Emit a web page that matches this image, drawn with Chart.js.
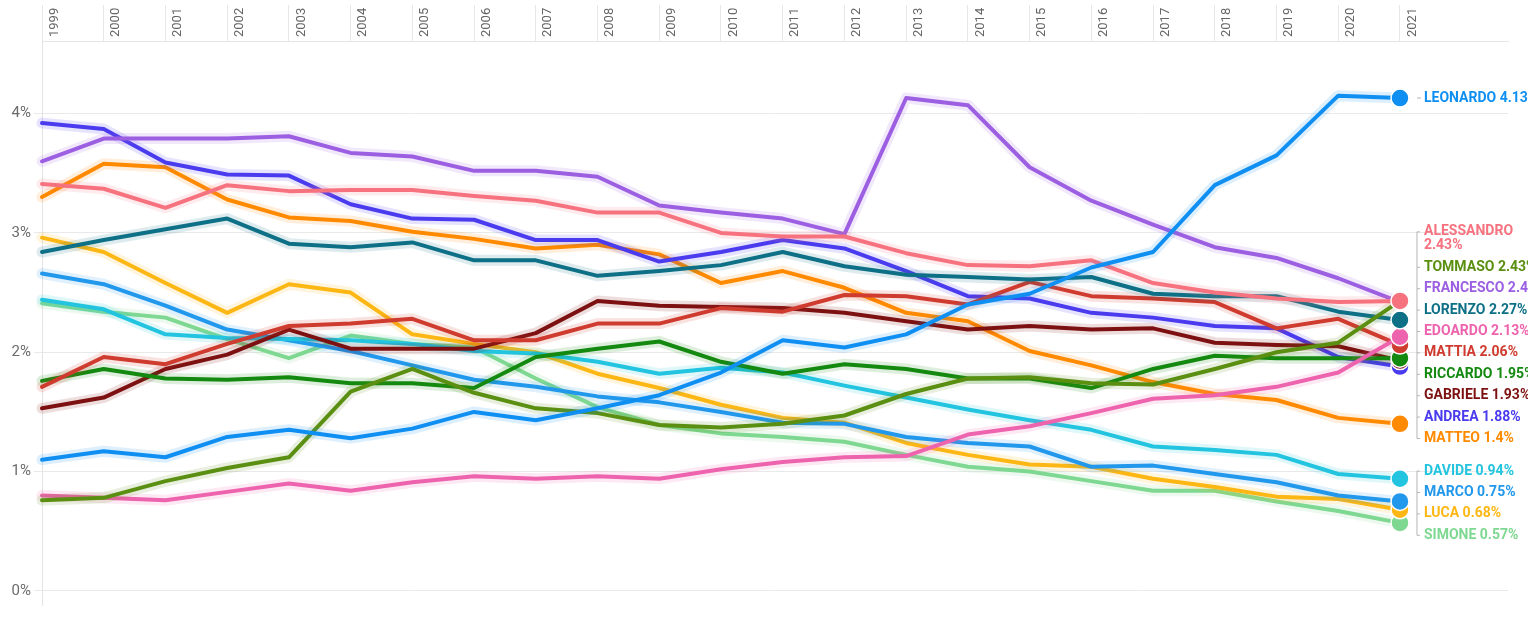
<!DOCTYPE html>
<html>
<head>
<meta charset="utf-8">
<script src="https://cdn.jsdelivr.net/npm/chart.js@4/dist/chart.umd.min.js"></script>
<style>
  html, body { margin: 0; padding: 0; background: #fff; }
  #wrap { width: 1528px; height: 617px; overflow: hidden; }
</style>
</head>
<body>
<div id="wrap"><canvas id="chart" width="1528" height="617"></canvas></div>
<script>
// anni
const years = [1999, 2000, 2001, 2002, 2003, 2004, 2005, 2006, 2007, 2008, 2009, 2010,
               2011, 2012, 2013, 2014, 2015, 2016, 2017, 2018, 2019, 2020, 2021];
const yTicks = [0, 1, 2, 3, 4];

// quota dei nati (%) per nome
const leonardo   = [1.10, 1.17, 1.12, 1.29, 1.35, 1.28, 1.36, 1.50, 1.43, 1.53, 1.64, 1.83, 2.10, 2.04, 2.15, 2.40, 2.49, 2.71, 2.84, 3.40, 3.65, 4.15, 4.13];
const alessandro = [3.41, 3.37, 3.21, 3.40, 3.35, 3.36, 3.36, 3.31, 3.27, 3.17, 3.17, 3.00, 2.97, 2.97, 2.83, 2.73, 2.72, 2.77, 2.58, 2.50, 2.45, 2.42, 2.43];
const tommaso    = [0.76, 0.78, 0.92, 1.03, 1.12, 1.67, 1.86, 1.66, 1.53, 1.49, 1.39, 1.37, 1.40, 1.47, 1.65, 1.78, 1.79, 1.74, 1.73, 1.86, 2.00, 2.08, 2.43];
const francesco  = [3.60, 3.79, 3.79, 3.79, 3.81, 3.67, 3.64, 3.52, 3.52, 3.47, 3.23, 3.17, 3.12, 2.99, 4.13, 4.07, 3.55, 3.27, 3.07, 2.88, 2.79, 2.62, 2.42];
const lorenzo    = [2.84, 2.94, 3.03, 3.12, 2.91, 2.88, 2.92, 2.77, 2.77, 2.64, 2.68, 2.73, 2.84, 2.72, 2.65, 2.63, 2.61, 2.63, 2.49, 2.47, 2.47, 2.34, 2.27];
const edoardo    = [0.80, 0.78, 0.76, 0.83, 0.90, 0.84, 0.91, 0.96, 0.94, 0.96, 0.94, 1.02, 1.08, 1.12, 1.13, 1.31, 1.38, 1.49, 1.61, 1.64, 1.71, 1.83, 2.13];
const mattia     = [1.71, 1.96, 1.90, 2.07, 2.22, 2.24, 2.28, 2.10, 2.10, 2.24, 2.24, 2.37, 2.34, 2.48, 2.47, 2.40, 2.59, 2.47, 2.45, 2.42, 2.20, 2.28, 2.06];
const riccardo   = [1.76, 1.86, 1.78, 1.77, 1.79, 1.74, 1.74, 1.70, 1.96, 2.03, 2.09, 1.92, 1.82, 1.90, 1.86, 1.78, 1.78, 1.70, 1.86, 1.97, 1.95, 1.95, 1.95];
const gabriele   = [1.53, 1.62, 1.86, 1.98, 2.19, 2.03, 2.03, 2.03, 2.16, 2.43, 2.39, 2.38, 2.37, 2.33, 2.26, 2.19, 2.22, 2.19, 2.20, 2.08, 2.06, 2.05, 1.93];
const andrea     = [3.92, 3.87, 3.59, 3.49, 3.48, 3.24, 3.12, 3.11, 2.94, 2.94, 2.76, 2.84, 2.94, 2.87, 2.68, 2.47, 2.45, 2.33, 2.29, 2.22, 2.20, 1.96, 1.88];
const matteo     = [3.30, 3.58, 3.55, 3.28, 3.13, 3.10, 3.01, 2.95, 2.87, 2.90, 2.82, 2.58, 2.68, 2.54, 2.33, 2.26, 2.01, 1.89, 1.75, 1.65, 1.60, 1.45, 1.40];
const davide     = [2.44, 2.36, 2.15, 2.12, 2.11, 2.10, 2.07, 2.01, 1.99, 1.92, 1.82, 1.87, 1.83, 1.72, 1.62, 1.52, 1.43, 1.35, 1.21, 1.18, 1.14, 0.98, 0.94];
const marco      = [2.66, 2.57, 2.39, 2.19, 2.10, 2.01, 1.89, 1.77, 1.71, 1.63, 1.58, 1.50, 1.41, 1.40, 1.29, 1.24, 1.21, 1.04, 1.05, 0.98, 0.91, 0.80, 0.75];
const luca       = [2.96, 2.84, 2.58, 2.33, 2.57, 2.50, 2.15, 2.07, 2.00, 1.82, 1.70, 1.56, 1.45, 1.41, 1.24, 1.14, 1.06, 1.04, 0.94, 0.87, 0.79, 0.77, 0.68];
const simone     = [2.41, 2.34, 2.29, 2.11, 1.95, 2.14, 2.07, 2.04, 1.78, 1.54, 1.39, 1.32, 1.29, 1.25, 1.14, 1.04, 1.00, 0.92, 0.84, 0.84, 0.75, 0.67, 0.57];

const names  = ['LEONARDO', 'ALESSANDRO', 'TOMMASO', 'FRANCESCO', 'LORENZO', 'EDOARDO', 'MATTIA',
                'RICCARDO', 'GABRIELE', 'ANDREA', 'MATTEO', 'DAVIDE', 'MARCO', 'LUCA', 'SIMONE'];
const series = [leonardo, alessandro, tommaso, francesco, lorenzo, edoardo, mattia,
                riccardo, gabriele, andrea, matteo, davide, marco, luca, simone];
const colors = ['#0f8ff2', '#f7727f', '#5b8f12', '#9c5fe2', '#0e7086', '#ee63ad', '#cf3b2e',
                '#13890f', '#7d1111', '#4a3cee', '#ff8a00', '#22c4df', '#2198ec', '#fdb714', '#7fd891'];

function rgba(hex, a) {
    const n = parseInt(hex.slice(1), 16);
    return 'rgba(' + (n >> 16) + ',' + ((n >> 8) & 255) + ',' + (n & 255) + ',' + a + ')';
}

// alone chiaro attorno alle linee (stesso tracciato della serie, più largo e trasparente)
const haloPlugin = {
    id: 'halo',
    beforeDatasetDraw(chart, args) {
        const ds = chart.data.datasets[args.index];
        const pts = args.meta.data;
        const ctx = chart.ctx;
        ctx.save();
        ctx.strokeStyle = rgba(ds.borderColor, 0.14);
        ctx.lineWidth = 11;
        ctx.lineJoin = 'round';
        ctx.lineCap = 'round';
        ctx.beginPath();
        pts.forEach((p, i) => (i ? ctx.lineTo(p.x, p.y) : ctx.moveTo(p.x, p.y)));
        ctx.stroke();
        ctx.restore();
    }
};

// etichette a destra con anti-sovrapposizione
const labelPlugin = {
    id: 'endLabels',
    afterDatasetsDraw(chart) {
        const ctx = chart.ctx;
        const xs = chart.scales.x, ys = chart.scales.y;
        const lineH = 21.4, wrapGap = 14;
        const px = xs.getPixelForValue(years[years.length - 1]);

        const items = chart.data.datasets.map((ds, i) => {
            const v = ds.data[ds.data.length - 1].y;
            const wrap = ds.label.length > 9;
            return { name: ds.label, value: v, color: ds.borderColor, order: i, wrap: wrap,
                     target: ys.getPixelForValue(v), h: wrap ? lineH + wrapGap : lineH };
        });
        items.sort((a, b) => (a.target - b.target) || (a.order - b.order));

        let blocks = items.map(it => ({ items: [it], h: it.h, top: it.target - it.h / 2 }));
        let merged = true;
        while (merged) {
            merged = false;
            for (let i = 1; i < blocks.length; i++) {
                const a = blocks[i - 1], b = blocks[i];
                if (a.top + a.h > b.top + 0.5) {
                    const all = a.items.concat(b.items);
                    let off = 0, sum = 0;
                    all.forEach(it => { sum += it.target - off - it.h / 2; off += it.h; });
                    blocks.splice(i - 1, 2, { items: all, h: off, top: sum / all.length });
                    merged = true;
                    break;
                }
            }
        }

        const xLine = px + 17, xText = px + 24;
        ctx.save();
        ctx.font = 'bold 14px Roboto';
        ctx.textBaseline = 'middle';
        ctx.textAlign = 'left';
        ctx.strokeStyle = '#b5b5b5';
        ctx.lineWidth = 1;
        blocks.forEach(b => {
            let off = 0;
            b.items.forEach(it => { it.y = b.top + off + it.h / 2; off += it.h; });
            const first = b.items[0], last = b.items[b.items.length - 1];
            const y0 = first.wrap ? first.y - wrapGap / 2 : first.y;
            if (b.items.length > 1) {
                ctx.beginPath();
                ctx.moveTo(xLine, y0);
                ctx.lineTo(xLine, last.y);
                ctx.stroke();
                b.items.forEach(it => {
                    const yy = it.wrap ? it.y - wrapGap / 2 : it.y;
                    ctx.beginPath();
                    ctx.moveTo(xLine, yy);
                    ctx.lineTo(xLine + 3, yy);
                    ctx.stroke();
                });
            } else {
                ctx.beginPath();
                ctx.moveTo(xLine, first.y);
                ctx.lineTo(xLine + 4, first.y);
                ctx.stroke();
            }
            b.items.forEach(it => {
                ctx.fillStyle = it.color;
                const val = it.value + '%';
                if (it.wrap) {
                    ctx.fillText(it.name, xText, it.y - wrapGap / 2);
                    ctx.fillText(val, xText, it.y + wrapGap / 2);
                } else {
                    ctx.fillText(it.name + ' ' + val, xText, it.y);
                }
            });
        });
        ctx.restore();
    }
};

Chart.register(haloPlugin, labelPlugin);

const datasets = names.map((name, i) => ({
    label: name,
    data: series[i].map((v, j) => ({ x: years[j], y: v })),
    borderColor: colors[i],
    backgroundColor: colors[i],
    borderWidth: 4,
    borderJoinStyle: 'round',
    borderCapStyle: 'round',
    tension: 0,
    fill: false,
    pointRadius: c => (c.dataIndex === years.length - 1 ? 9 : 0),
    pointBackgroundColor: colors[i],
    pointBorderColor: '#ffffff',
    pointBorderWidth: 1.5,
    clip: false
}));

new Chart(document.getElementById('chart').getContext('2d'), {
    type: 'line',
    data: { datasets: datasets },
    options: {
        responsive: false,
        animation: false,
        layout: { padding: { left: 0, right: 20, top: 0, bottom: 5 } },
        plugins: { legend: { display: false }, tooltip: { enabled: false } },
        scales: {
            x: {
                type: 'linear',
                position: 'top',
                min: 1999,
                max: 2022.75,
                afterBuildTicks: s => { s.ticks = years.map(v => ({ value: v })); },
                afterFit: s => { s.height = 41; },
                grid: { drawOnChartArea: false, drawTicks: true, tickLength: 36, color: '#e8e8e8' },
                border: { display: true, color: '#e6e6e6' },
                ticks: {
                    autoSkip: false,
                    minRotation: 90,
                    maxRotation: 90,
                    labelOffset: 28,
                    padding: -32,
                    color: '#666',
                    font: { family: 'Roboto', size: 13 },
                    callback: v => String(v)
                }
            },
            y: {
                min: -0.118,
                max: 4.608,
                afterBuildTicks: s => { s.ticks = yTicks.map(v => ({ value: v })); },
                afterFit: s => { s.width = 42; },
                grid: { color: '#e9e9e9', tickLength: 8, drawTicks: true },
                border: { display: true, color: '#e3e3e3' },
                ticks: {
                    padding: 3,
                    color: '#6b6b6b',
                    font: { family: 'Roboto', size: 15 },
                    callback: v => v + '%'
                }
            }
        }
    }
});
</script>
</body>
</html>
